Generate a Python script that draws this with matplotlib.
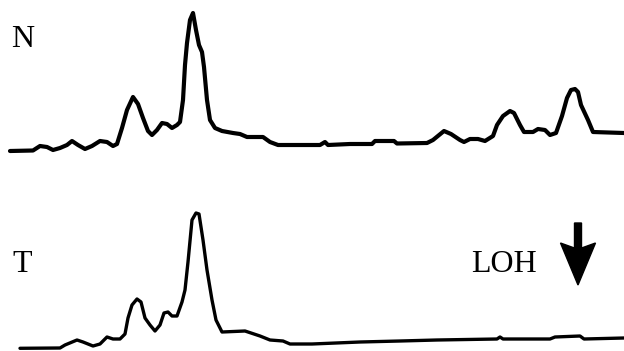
import matplotlib
matplotlib.use("Agg")
import matplotlib.pyplot as plt

# Trace N (normal tissue): migration position and signal intensity
n_pos = [10, 33, 40, 47, 53, 60, 67, 72, 78, 85, 92, 100, 107, 113, 117, 122, 127, 133, 138, 143,
         148, 152, 157, 162, 167, 172, 177, 180, 183, 185, 187, 190, 193, 196, 199, 202, 204, 207, 210, 215,
         222, 233, 240, 247, 263, 270, 278, 312, 320, 325, 328, 350, 372, 375, 394, 397, 427, 433, 444, 451,
         460, 464, 470, 478, 485, 493, 497, 503, 510, 514, 520, 524, 533, 538, 545, 550, 556, 562, 567, 571,
         575, 578, 581, 588, 593, 624]
n_signal = [1, 1.5, 6, 5, 2, 4, 7, 11, 7, 3, 6, 11, 10, 6, 8, 24, 42, 55, 48, 34,
            21, 17, 22, 29, 28, 24, 27, 30, 52, 87, 109, 132, 139, 122, 107, 100, 85, 52, 32, 24,
            21, 19, 18, 15, 15, 10, 7, 7, 7, 10, 7, 8, 8, 11, 11, 8.5, 9, 12, 21, 18,
            12, 10, 13, 13, 11, 16, 27, 36, 41, 39, 27, 20, 20, 23, 22, 17, 19, 36, 54, 62,
            63, 60, 47, 32, 20, 19]

# Trace T (tumour tissue)
t_pos = [20, 60, 65, 77, 83, 93, 100, 107, 113, 120, 125, 128, 132, 137, 141, 145, 150, 155, 160, 164,
         168, 172, 177, 182, 185, 188, 192, 196, 199, 203, 207, 212, 216, 222, 245, 260, 270, 283, 290, 312,
         360, 400, 437, 497, 500, 503, 550, 555, 580, 584, 624]
t_signal = [0.7, 1, 4, 9, 7, 3, 5, 12, 10, 10, 15, 31, 44, 50, 47, 31, 24, 18, 24, 36,
            37, 33, 33, 47, 59, 87, 129, 136, 135, 109, 79, 49, 29, 17, 18, 13, 9, 8, 5, 5,
            7, 8, 9, 10, 12, 10, 10, 12, 13, 10, 11]

labels = ["N", "T"]
loh_label = "LOH"

fig = plt.figure(figsize=(6.24, 3.51), dpi=100)
ax = fig.add_axes([0, 0, 1, 1])
ax.set_xlim(0, 624)
ax.set_ylim(0, 351)
ax.axis("off")

n_offset = 199
t_offset = 2
ax.plot(n_pos, [n_offset + s for s in n_signal], color="black", lw=3.0,
        solid_joinstyle="round", solid_capstyle="round")
ax.plot(t_pos, [t_offset + s for s in t_signal], color="black", lw=2.4,
        solid_joinstyle="round", solid_capstyle="round")

font = dict(family="Liberation Serif", fontsize=23, color="black")
ax.text(11, 304, labels[0], ha="left", va="baseline", **font)
ax.text(12, 79, labels[1], ha="left", va="baseline", **font)
ax.text(471, 79, loh_label, ha="left", va="baseline", **font)

ax.arrow(578, 128, 0, -62, width=7, head_width=35, head_length=42, overhang=0.12,
         length_includes_head=True, color="black")

fig.savefig("out.png", dpi=100)
